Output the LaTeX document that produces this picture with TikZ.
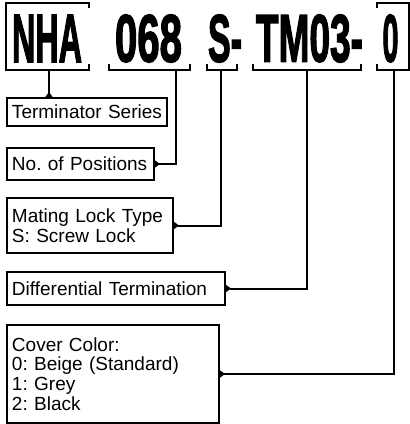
\documentclass[tikz,border=0pt]{standalone}
\usepackage{fontspec}
\setmainfont{Liberation Sans}
\newfontfamily\codefont[FakeBold=2.5]{Liberation Sans Bold}
\usepackage{graphicx}
\usetikzlibrary{arrows.meta}
\frenchspacing
\hyphenpenalty=10000
\begin{document}
\begin{tikzpicture}[x=1pt,y=-1pt,
  code/.style={inner sep=0pt,anchor=center},
  brk/.style={line width=2pt,line cap=rect},
  infobox/.style={draw,line width=2pt,anchor=north west,align=left,inner xsep=5pt,inner ysep=0pt,
     font=\fontsize{19}{19.6}\selectfont},
  conn/.style={line width=2pt,{Triangle[reversed,length=5pt,width=7pt]}-}]
\useasboundingbox (0,0) rectangle (410,424);
% code parts
\node[code] (nha) at (47,38.5) {\resizebox{70pt}{47pt}{\codefont NHA}};
\node[code] (pos) at (148.5,38.5) {\resizebox{67pt}{47pt}{\codefont 068}};
\node[code] (lock) at (225,38.5) {\resizebox{34pt}{47pt}{\codefont S-}};
\node[code] (term) at (309.5,38.5) {\resizebox{107pt}{47pt}{\codefont TM03-}};
\node[code] (col) at (390.5,38.5) {\resizebox{16pt}{47pt}{\codefont 0}};
% brackets
\draw[brk] (89,7) -- (89,3) -- (6,3) -- (6,70) -- (89,70) -- (89,65);
\draw[brk] (109,65) -- (109,70) -- (190,70) -- (190,65);
\draw[brk] (207,65) -- (207,70) -- (237,70) -- (237,65);
\draw[brk] (253,65) -- (253,70) -- (361,70) -- (361,65);
\draw[brk] (377,7) -- (377,3) -- (409,3) -- (409,70) -- (377,70) -- (377,65);
\coordinate (b1) at (49,70);
\coordinate (b2) at (176,70);
\coordinate (b3) at (221,70);
\coordinate (b4) at (307,70);
\coordinate (b5) at (394,70);
% boxes
\node[infobox,text width=150pt,minimum height=28pt] (ts) at (6,97) {Terminator Series};
\node[infobox,text width=137pt,minimum height=32pt] (np) at (6,147) {No. of Positions};
\node[infobox,text width=156pt,minimum height=55pt] (ml) at (6,197) {Mating Lock Type\\S: Screw Lock};
\node[infobox,text width=208pt,minimum height=33pt] (dt) at (6,271) {Differential Termination};
\node[infobox,text width=202pt,minimum height=98pt] (cc) at (6,324) {Cover Color:\\0: Beige (Standard)\\1: Grey\\2: Black};
% connectors
\draw[conn] (b1 |- ts.north) -- (b1);
\draw[conn] (np.east) -| (b2);
\draw[conn] (ml.east) -| (b3);
\draw[conn] (dt.east) -| (b4);
\draw[conn] (cc.east) -| (b5);
\end{tikzpicture}
\end{document}
